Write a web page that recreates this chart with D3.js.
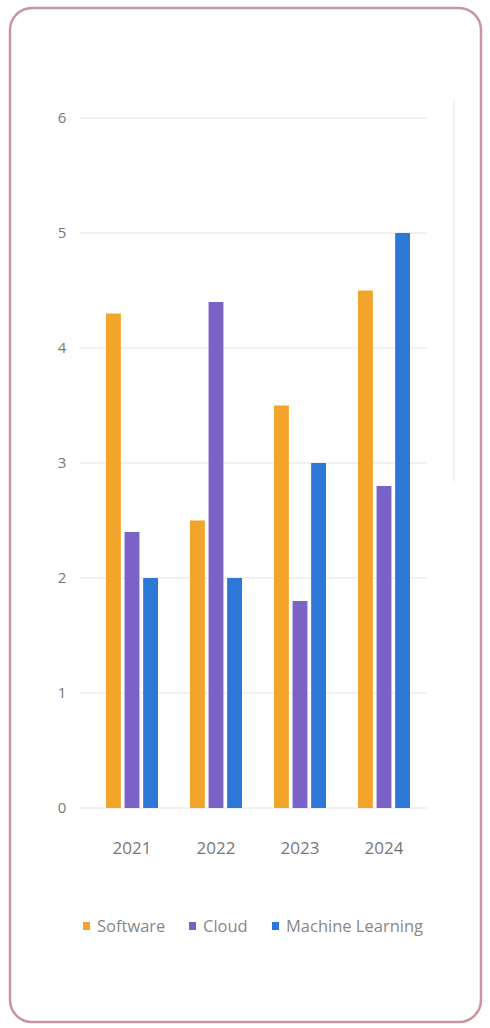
<!DOCTYPE html>
<html>
<head>
<meta charset="utf-8">
<script src="https://cdn.jsdelivr.net/npm/d3@7"></script>
<style>
    html, body { margin: 0; padding: 0; background: #fff; }
    svg { display: block; }
</style>
</head>
<body>
<svg id="chart"></svg>
<script>
const years = ["2021", "2022", "2023", "2024"];
const seriesNames = ["Software", "Cloud", "Machine Learning"];
const software = [4.3, 2.5, 3.5, 4.5];
const cloud = [2.4, 4.4, 1.8, 2.8];
const machineLearning = [2.0, 2.0, 3.0, 5.0];
const yTicks = [0, 1, 2, 3, 4, 5, 6];
const colors = ["#f2a52a", "#7a62c6", "#2d78d6"];

const width = 490, height = 1028;
const svg = d3.select("#chart").attr("width", width).attr("height", height);

// card border
svg.append("rect")
    .attr("x", 10).attr("y", 8)
    .attr("width", 471).attr("height", 1014)
    .attr("rx", 22)
    .attr("fill", "#fff")
    .attr("stroke", "#c9959e")
    .attr("stroke-width", 2.5);

// faint panel edge on the right
svg.append("line")
    .attr("x1", 454).attr("x2", 454)
    .attr("y1", 100).attr("y2", 482)
    .attr("stroke", "#f3f3f3")
    .attr("stroke-width", 2);

const values = [software, cloud, machineLearning];

const x0 = d3.scaleBand().domain(years).range([90, 426]);
const x1 = d3.scaleBand().domain(seriesNames).range([-26, 26]).paddingInner(0.2);
const y = d3.scaleLinear().domain([0, 6]).range([808, 118]);

// gridlines
svg.append("g")
    .selectAll("line")
    .data(yTicks)
    .join("line")
    .attr("x1", 80).attr("x2", 427)
    .attr("y1", d => y(d)).attr("y2", d => y(d))
    .attr("stroke", "#ececec")
    .attr("stroke-width", 1.5);

// y labels
svg.append("g")
    .selectAll("text")
    .data(yTicks)
    .join("text")
    .attr("x", 62).attr("y", d => y(d))
    .attr("dy", "0.35em")
    .attr("text-anchor", "middle")
    .attr("font-family", "Open Sans, sans-serif")
    .attr("font-size", 15)
    .attr("fill", "#777")
    .text(d => d);

// bars
const groups = svg.append("g")
    .selectAll("g")
    .data(years)
    .join("g")
    .attr("transform", d => `translate(${x0(d) + x0.bandwidth() / 2},0)`);

groups.selectAll("rect")
    .data((d, i) => seriesNames.map((s, k) => ({s, k, v: values[k][i]})))
    .join("rect")
    .attr("x", d => x1(d.s))
    .attr("width", x1.bandwidth())
    .attr("y", d => y(d.v))
    .attr("height", d => y(0) - y(d.v))
    .attr("fill", d => colors[d.k]);

// x labels
svg.append("g")
    .selectAll("text")
    .data(years)
    .join("text")
    .attr("x", d => x0(d) + x0.bandwidth() / 2)
    .attr("y", 854)
    .attr("text-anchor", "middle")
    .attr("font-family", "Open Sans, sans-serif")
    .attr("font-size", 17)
    .attr("fill", "#777")
    .text(d => d);

// legend
const legendX = [83, 189, 272];
const legend = svg.append("g")
    .selectAll("g")
    .data(seriesNames)
    .join("g")
    .attr("transform", (d, i) => `translate(${legendX[i]},926)`);

legend.append("rect")
    .attr("x", 0).attr("y", -4)
    .attr("width", 7).attr("height", 8)
    .attr("fill", (d, i) => colors[i]);

legend.append("text")
    .attr("x", 14).attr("y", 0)
    .attr("dy", "0.35em")
    .attr("font-family", "Open Sans, sans-serif")
    .attr("font-size", 16.5)
    .attr("fill", "#888")
    .text(d => d);
</script>
</body>
</html>
